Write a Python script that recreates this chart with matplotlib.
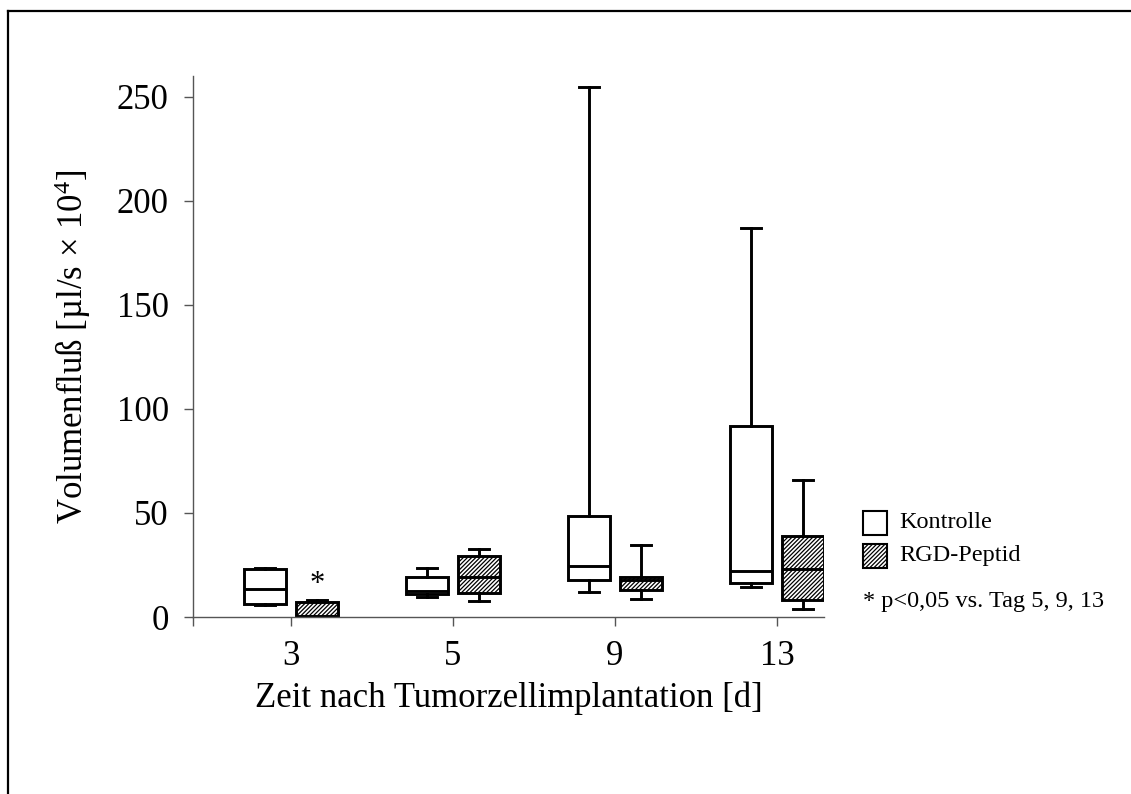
import matplotlib
matplotlib.use("Agg")
import matplotlib.pyplot as plt
from matplotlib.lines import Line2D
from matplotlib.patches import Rectangle

plt.rcParams['font.family'] = ['Liberation Serif', 'DejaVu Serif']
plt.rcParams['mathtext.fontset'] = 'custom'
plt.rcParams['mathtext.rm'] = 'Liberation Serif'
plt.rcParams['mathtext.it'] = 'Liberation Serif:italic'
plt.rcParams['hatch.linewidth'] = 0.9
plt.rcParams['hatch.color'] = 'black'

# ---- data ----
days = ['3', '5', '9', '13']
groups = ['Kontrolle', 'RGD-Peptid']
# Kontrolle: whislo, q1, med, q3, whishi
k_min = [5.8, 9.8, 12.0, 14.3]
k_q1 = [6.3, 11.1, 17.9, 16.2]
k_med = [13.3, 12.7, 24.4, 22.1]
k_q3 = [23.1, 19.1, 48.7, 91.9]
k_max = [23.6, 23.7, 254.4, 186.7]
# RGD-Peptid
r_min = [0.0, 7.8, 8.5, 3.7]
r_q1 = [0.0, 11.4, 13.0, 8.0]
r_med = [0.6, 19.1, 17.9, 23.2]
r_q3 = [7.4, 29.5, 19.2, 39.0]
r_max = [8.0, 32.7, 34.5, 65.6]

yticks = [0, 50, 100, 150, 200, 250]

W, H = 1131, 794
fig = plt.figure(figsize=(W / 100, H / 100), dpi=100)
ax = fig.add_axes([193 / W, 1 - 617 / H, (824 - 193) / W, (617 - 75.7) / H])

centers = [1, 2, 3, 4]
off = 0.16
bw = 0.26


def stats(mins, q1s, meds, q3s, maxs):
    return [dict(whislo=a, q1=b, med=c, q3=d, whishi=e, fliers=[])
            for a, b, c, d, e in zip(mins, q1s, meds, q3s, maxs)]


lw = 2.1
common = dict(widths=bw, patch_artist=True, showfliers=False,
              capwidths=0.12,
              whiskerprops=dict(color='black', linewidth=lw),
              capprops=dict(color='black', linewidth=lw),
              medianprops=dict(color='black', linewidth=lw))

ax.bxp(stats(k_min, k_q1, k_med, k_q3, k_max),
       positions=[c - off for c in centers],
       boxprops=dict(facecolor='white', edgecolor='black', linewidth=lw),
       **common)
ax.bxp(stats(r_min, r_q1, r_med, r_q3, r_max),
       positions=[c + off for c in centers],
       boxprops=dict(facecolor='white', edgecolor='black', linewidth=lw,
                     hatch='////////'),
       **common)

ax.set_xlim(0.395, 4.29)
ax.set_ylim(0, 260)

for s in ['top', 'right']:
    ax.spines[s].set_visible(False)
for s in ['left', 'bottom']:
    ax.spines[s].set_color('#555555')
    ax.spines[s].set_linewidth(1.0)

ax.set_yticks(yticks)
ax.set_yticklabels([str(v) for v in yticks])
ax.set_xticks([0.395] + centers)
ax.set_xticklabels([''] + days)
ax.tick_params(axis='both', direction='out', length=6.5, width=1.0,
               color='#555555', labelsize=25)
ax.tick_params(axis='y', pad=11)
ax.tick_params(axis='x', pad=10)

ax.set_ylabel('Volumenfluß [µl/s × 10$^{4}$]', fontsize=25, labelpad=17)
ax.set_xlabel('Zeit nach Tumorzellimplantation [d]', fontsize=25, labelpad=6)

# significance marker
ax.text(centers[0] + off, 12, '*', ha='center', va='baseline', fontsize=22)

# legend (manual, as in original)
fig.patches.append(Rectangle((863 / W, 1 - 535 / H), 24 / W, 24 / H,
                             transform=fig.transFigure, facecolor='white',
                             edgecolor='black', linewidth=1.5))
fig.patches.append(Rectangle((863 / W, 1 - 568 / H), 24 / W, 24 / H,
                             transform=fig.transFigure, facecolor='white',
                             edgecolor='black', linewidth=1.5, hatch='////////'))
fig.text(899 / W, 1 - 523 / H, groups[0], fontsize=17.5, va='center', ha='left')
fig.text(899 / W, 1 - 556 / H, groups[1], fontsize=17.5, va='center', ha='left')
fig.text(863 / W, 1 - 602 / H, '* p<0,05 vs. Tag 5, 9, 13', fontsize=17.5,
         va='center', ha='left')

# outer frame (left and top edges)
fig.add_artist(Line2D([7.5 / W, 7.5 / W], [0, 1 - 11 / H], transform=fig.transFigure,
                      color='black', linewidth=1.6))
fig.add_artist(Line2D([7.5 / W, 1], [1 - 11 / H, 1 - 11 / H], transform=fig.transFigure,
                      color='black', linewidth=1.6))

fig.savefig('out.png', dpi=100)
